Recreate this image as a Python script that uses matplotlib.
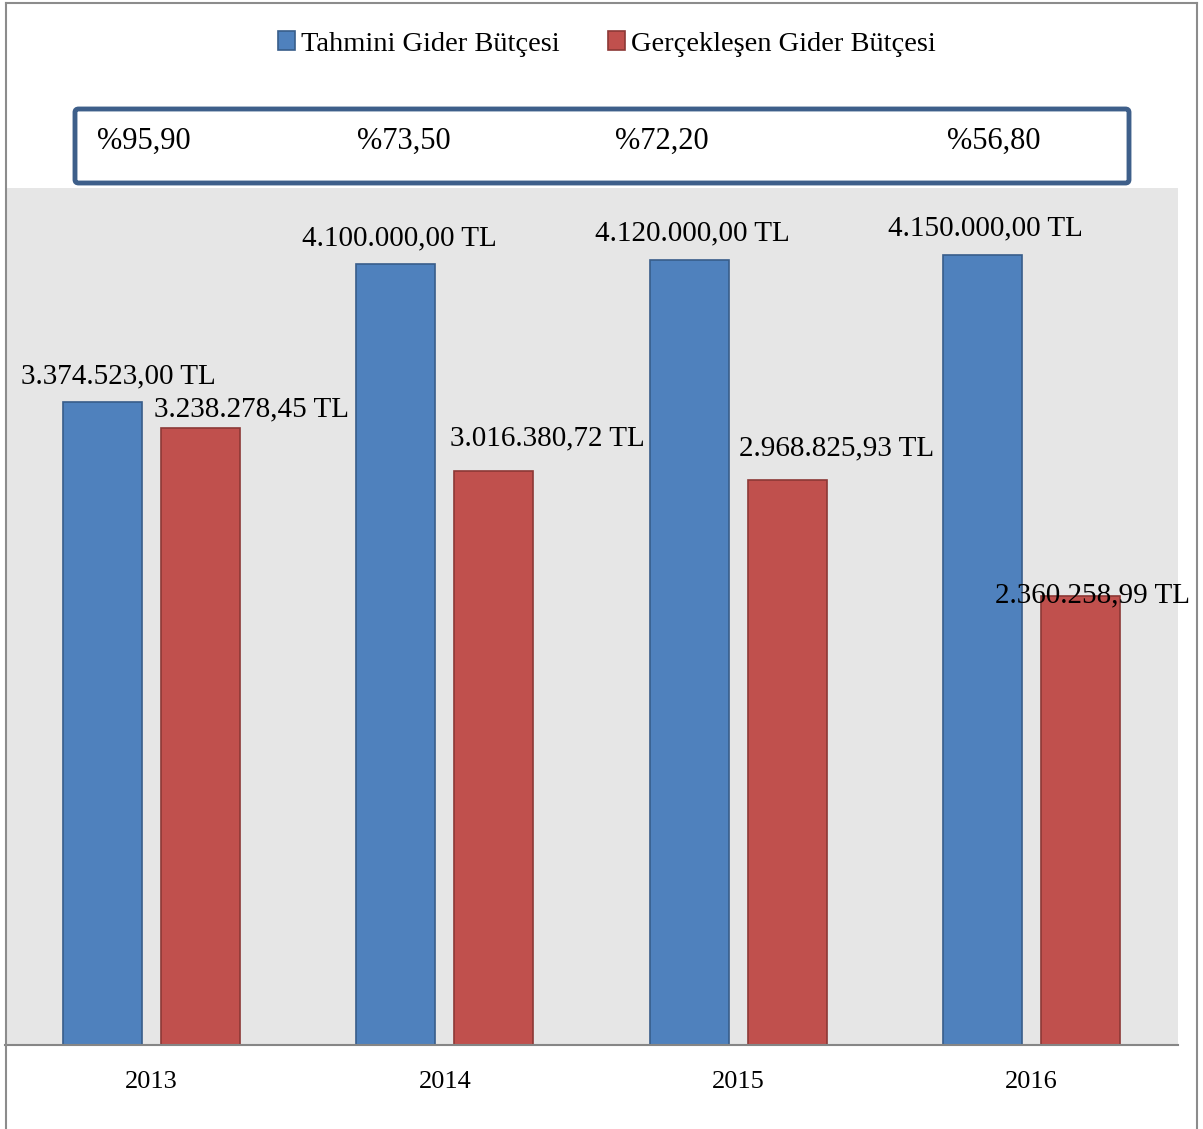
import matplotlib.pyplot as plt
import numpy as np
from matplotlib.patches import FancyBboxPatch
from matplotlib.lines import Line2D

plt.rcParams['font.family'] = ['Liberation Serif', 'DejaVu Serif']

# Veriler
yillar = ['2013', '2014', '2015', '2016']
tahmini = [3374523.00, 4100000.00, 4120000.00, 4150000.00]
gerceklesen = [3238278.45, 3016380.72, 2968825.93, 2360258.99]
tahmini_etiket = ['3.374.523,00 TL', '4.100.000,00 TL', '4.120.000,00 TL', '4.150.000,00 TL']
gercek_etiket = ['3.238.278,45 TL', '3.016.380,72 TL', '2.968.825,93 TL', '2.360.258,99 TL']
oranlar = ['%95,90', '%73,50', '%72,20', '%56,80']

W, H = 1203, 1129
fig = plt.figure(figsize=(W / 100, H / 100), dpi=100)


def fx(px):
    return px / W


def fy(py):
    return 1 - py / H


ax = fig.add_axes([fx(5), fy(1045), fx(1178) - fx(5), fy(188) - fy(1045)])
ax.set_facecolor('#E6E6E6')

x = np.arange(len(yillar))
w = 0.27
off = 0.167
b1 = ax.bar(x - off, tahmini, w, color='#4F81BD', edgecolor='#385D8A', linewidth=1.2, zorder=2)
b2 = ax.bar(x + off, gerceklesen, w, color='#C0504D', edgecolor='#8C3836', linewidth=1.2, zorder=2)

ax.set_xlim(-0.5, 3.5)
ax.set_ylim(0, 4.5e6)
ax.set_yticks([])
ax.set_xticks(x)
ax.set_xticklabels(yillar, fontsize=19)
ax.tick_params(axis='x', length=0, pad=18.5)
for s in ['top', 'left', 'right']:
    ax.spines[s].set_visible(False)
ax.spines['bottom'].set_color('#868686')
ax.spines['bottom'].set_linewidth(1.5)

# Etiket kaydırmaları (piksel)
dx1 = [16, 3, 3, 3]
dy1 = [26, 26, 27, 26]
dx2 = [51, 54, 49, 12]
dy2 = [19, 32, 31, 0]
for i in range(len(yillar)):
    ax.annotate(tahmini_etiket[i], (x[i] - off, tahmini[i]), xytext=(dx1[i], dy1[i]),
                textcoords='offset pixels', ha='center', va='center', fontsize=21)
    ax.annotate(gercek_etiket[i], (x[i] + off, gerceklesen[i]), xytext=(dx2[i], dy2[i]),
                textcoords='offset pixels', ha='center', va='center', fontsize=21)

# Lejant
fig.legend([b1, b2], ['Tahmini Gider Bütçesi', 'Gerçekleşen Gider Bütçesi'],
           loc='center', bbox_to_anchor=(fx(607), fy(44)), ncol=2, frameon=False,
           fontsize=20.5, handlelength=0.6, handleheight=0.6, handletextpad=0.2,
           columnspacing=1.7)

# Oran kutusu
kutu = FancyBboxPatch((fx(75), fy(183)), fx(1129) - fx(75), fy(109) - fy(183),
                      boxstyle='round,pad=0,rounding_size=0.003', transform=fig.transFigure,
                      facecolor='white', edgecolor='#3E5F8A', linewidth=3.5)
fig.add_artist(kutu)
oran_x = [97, 357, 615, 947]
for ox, o in zip(oran_x, oranlar):
    fig.text(fx(ox), fy(141), o, ha='left', va='center', fontsize=22)

# Dış çerçeve
kc = '#8C8C8C'
fig.add_artist(Line2D([fx(5.5), fx(5.5)], [0, fy(2.5)], color=kc, lw=1.5))
fig.add_artist(Line2D([fx(5.5), fx(1197)], [fy(2.5), fy(2.5)], color=kc, lw=1.5))
fig.add_artist(Line2D([fx(1197), fx(1197)], [0, fy(2.5)], color=kc, lw=1.5))

plt.savefig('out.png', dpi=100)
